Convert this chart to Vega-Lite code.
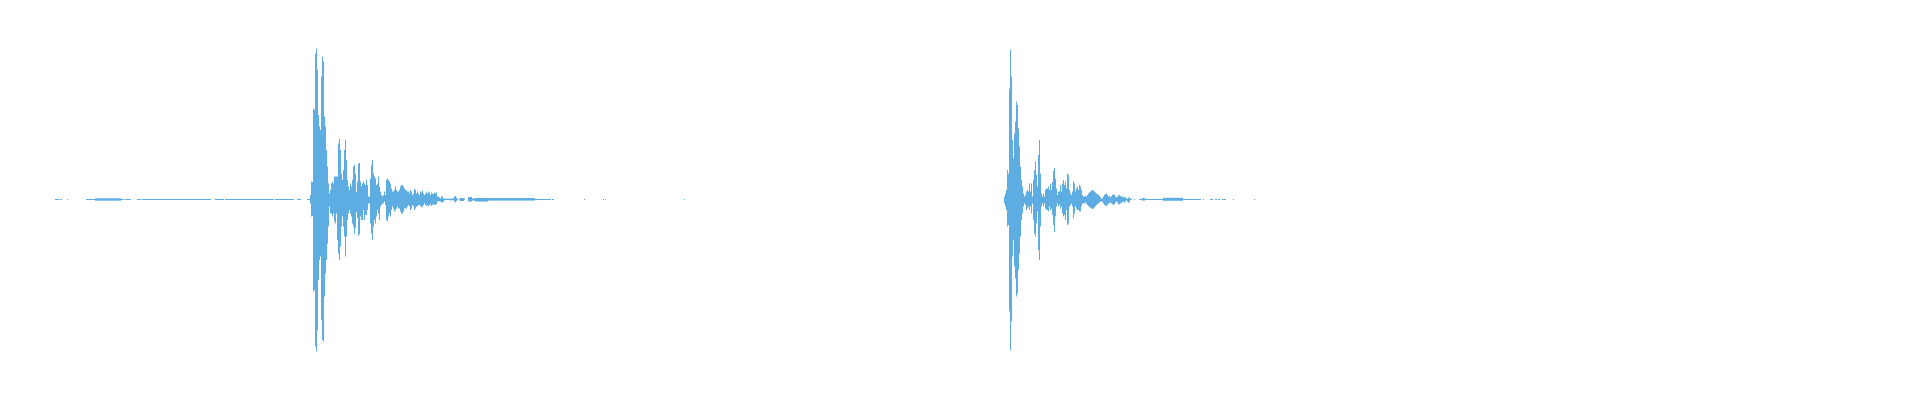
{
  "$schema": "https://vega.github.io/schema/vega-lite/v6.json",
  "autosize": {"type": "fit", "contains": "padding"},
  "width": 1920,
  "height": 400,
  "padding": 0,
  "background": "white",
  "config": {"view": {"stroke": null}},
  "data": {"values": [
    {"t":55,"t2":57,"lo":0,"hi":0.005},{"t":57,"t2":59,"lo":0,"hi":0.005},{"t":60,"t2":62,"lo":0,"hi":0.005},{"t":67,"t2":68,"lo":0,"hi":0.005},
    {"t":86,"t2":95,"lo":0,"hi":0.005},{"t":95,"t2":121,"lo":-0.0035,"hi":0.0085},{"t":121,"t2":124,"lo":0,"hi":0.005},{"t":125,"t2":131,"lo":0,"hi":0.005},
    {"t":137,"t2":141,"lo":0,"hi":0.005},{"t":142,"t2":181,"lo":0,"hi":0.005},{"t":181,"t2":211,"lo":0,"hi":0.005},{"t":215,"t2":224,"lo":0,"hi":0.005},
    {"t":225,"t2":243,"lo":0,"hi":0.005},{"t":243,"t2":274,"lo":0,"hi":0.005},{"t":275,"t2":294,"lo":0,"hi":0.005},{"t":297,"t2":301,"lo":0,"hi":0.005},
    {"t":307,"t2":310,"lo":0,"hi":0.005},
    {"t":310,"t2":311,"lo":-0.017,"hi":0.025},{"t":311,"t2":312,"lo":-0.083,"hi":0.092},{"t":312,"t2":313,"lo":-0.08,"hi":0.09},
    {"t":313,"t2":314,"lo":-0.458,"hi":0.458},{"t":314,"t2":315,"lo":-0.45,"hi":0.45},{"t":315,"t2":316,"lo":-0.733,"hi":0.733},
    {"t":316,"t2":317,"lo":-0.758,"hi":0.758},{"t":317,"t2":318,"lo":-0.65,"hi":0.65},{"t":318,"t2":319,"lo":-0.4,"hi":0.425},
    {"t":319,"t2":320,"lo":-0.3,"hi":0.367},{"t":320,"t2":321,"lo":-0.283,"hi":0.35},{"t":321,"t2":322,"lo":-0.6,"hi":0.617},
    {"t":322,"t2":323,"lo":-0.7,"hi":0.717},{"t":323,"t2":324,"lo":-0.708,"hi":0.692},{"t":324,"t2":325,"lo":-0.483,"hi":0.417},
    {"t":325,"t2":326,"lo":-0.367,"hi":0.367},{"t":326,"t2":327,"lo":-0.3,"hi":0.25},{"t":327,"t2":328,"lo":-0.217,"hi":0.167},
    {"t":328,"t2":329,"lo":-0.133,"hi":0.083},{"t":329,"t2":330,"lo":-0.033,"hi":0.033},{"t":330,"t2":331,"lo":-0.067,"hi":0.05},
    {"t":331,"t2":332,"lo":-0.067,"hi":0.083},{"t":332,"t2":333,"lo":-0.083,"hi":0.092},{"t":333,"t2":334,"lo":-0.067,"hi":0.083},
    {"t":334,"t2":335,"lo":-0.108,"hi":0.117},{"t":335,"t2":336,"lo":-0.117,"hi":0.117},{"t":336,"t2":337,"lo":-0.067,"hi":0.117},
    {"t":337,"t2":338,"lo":-0.2,"hi":0.117},{"t":338,"t2":339,"lo":-0.267,"hi":0.283},{"t":339,"t2":340,"lo":-0.3,"hi":0.308},
    {"t":340,"t2":341,"lo":-0.233,"hi":0.25},{"t":341,"t2":342,"lo":-0.133,"hi":0.133},{"t":342,"t2":343,"lo":-0.083,"hi":0.1},
    {"t":343,"t2":344,"lo":-0.133,"hi":0.15},{"t":344,"t2":345,"lo":-0.183,"hi":0.25},{"t":345,"t2":346,"lo":-0.283,"hi":0.3},
    {"t":346,"t2":347,"lo":-0.183,"hi":0.2},{"t":347,"t2":348,"lo":-0.1,"hi":0.1},{"t":348,"t2":349,"lo":-0.067,"hi":0.067},
    {"t":349,"t2":350,"lo":-0.05,"hi":0.05},{"t":350,"t2":351,"lo":-0.067,"hi":0.083},{"t":351,"t2":352,"lo":-0.083,"hi":0.067},
    {"t":352,"t2":353,"lo":-0.117,"hi":0.1},{"t":353,"t2":354,"lo":-0.133,"hi":0.167},{"t":354,"t2":355,"lo":-0.167,"hi":0.175},
    {"t":355,"t2":356,"lo":-0.14,"hi":0.13},{"t":356,"t2":357,"lo":-0.06,"hi":0.04},{"t":357,"t2":358,"lo":-0.09,"hi":0.092},
    {"t":358,"t2":359,"lo":-0.18,"hi":0.183},{"t":359,"t2":360,"lo":-0.17,"hi":0.185},
    {"t":360,"t2":361,"lo":-0.083,"hi":0.092},{"t":361,"t2":362,"lo":-0.1,"hi":0.067},{"t":362,"t2":363,"lo":-0.1,"hi":0.083},
    {"t":363,"t2":364,"lo":-0.05,"hi":0.092},{"t":364,"t2":365,"lo":-0.1,"hi":0.083},{"t":365,"t2":366,"lo":-0.075,"hi":0.075},
    {"t":366,"t2":367,"lo":-0.075,"hi":0.1},{"t":367,"t2":368,"lo":-0.05,"hi":0.075},{"t":368,"t2":369,"lo":-0.017,"hi":0.017},
    {"t":369,"t2":370,"lo":-0.017,"hi":0.017},{"t":370,"t2":371,"lo":-0.117,"hi":0.108},{"t":371,"t2":372,"lo":-0.167,"hi":0.175},
    {"t":372,"t2":373,"lo":-0.2,"hi":0.2},{"t":373,"t2":374,"lo":-0.133,"hi":0.133},{"t":374,"t2":375,"lo":-0.1,"hi":0.117},
    {"t":375,"t2":376,"lo":-0.117,"hi":0.108},{"t":376,"t2":377,"lo":-0.083,"hi":0.075},{"t":377,"t2":378,"lo":-0.05,"hi":0.083},
    {"t":378,"t2":379,"lo":-0.067,"hi":0.117},{"t":379,"t2":380,"lo":-0.1,"hi":0.067},{"t":380,"t2":381,"lo":-0.033,"hi":0.042},
    {"t":381,"t2":382,"lo":-0.025,"hi":0.025},{"t":382,"t2":383,"lo":-0.017,"hi":0.017},{"t":383,"t2":384,"lo":-0.017,"hi":0.025},
    {"t":384,"t2":385,"lo":-0.008,"hi":0.042},{"t":385,"t2":386,"lo":-0.025,"hi":0.025},{"t":386,"t2":387,"lo":-0.1,"hi":0.1},
    {"t":387,"t2":388,"lo":-0.108,"hi":0.108},{"t":388,"t2":389,"lo":-0.083,"hi":0.1},{"t":389,"t2":390,"lo":-0.067,"hi":0.092},
    {"t":390,"t2":391,"lo":-0.083,"hi":0.083},{"t":391,"t2":392,"lo":-0.05,"hi":0.058},{"t":392,"t2":393,"lo":-0.033,"hi":0.042},
    {"t":393,"t2":394,"lo":-0.042,"hi":0.042},{"t":394,"t2":395,"lo":-0.058,"hi":0.05},{"t":395,"t2":396,"lo":-0.05,"hi":0.067},
    {"t":396,"t2":397,"lo":-0.042,"hi":0.05},{"t":397,"t2":398,"lo":-0.033,"hi":0.042},{"t":398,"t2":399,"lo":-0.042,"hi":0.042},
    {"t":399,"t2":400,"lo":-0.042,"hi":0.05},{"t":400,"t2":401,"lo":-0.058,"hi":0.067},{"t":401,"t2":402,"lo":-0.067,"hi":0.075},
    {"t":402,"t2":403,"lo":-0.067,"hi":0.075},{"t":403,"t2":404,"lo":-0.058,"hi":0.067},{"t":404,"t2":405,"lo":-0.042,"hi":0.058},
    {"t":405,"t2":406,"lo":-0.042,"hi":0.05},{"t":406,"t2":407,"lo":-0.042,"hi":0.05},{"t":407,"t2":408,"lo":-0.033,"hi":0.042},
    {"t":408,"t2":409,"lo":-0.025,"hi":0.042},{"t":409,"t2":410,"lo":-0.033,"hi":0.033},{"t":410,"t2":411,"lo":-0.05,"hi":0.05},
    {"t":411,"t2":412,"lo":-0.042,"hi":0.042},{"t":412,"t2":413,"lo":-0.025,"hi":0.025},{"t":413,"t2":414,"lo":-0.033,"hi":0.033},
    {"t":414,"t2":415,"lo":-0.05,"hi":0.058},{"t":415,"t2":416,"lo":-0.042,"hi":0.05},{"t":416,"t2":417,"lo":-0.033,"hi":0.033},
    {"t":417,"t2":418,"lo":-0.033,"hi":0.042},{"t":418,"t2":419,"lo":-0.025,"hi":0.033},{"t":419,"t2":420,"lo":-0.025,"hi":0.025},
    {"t":420,"t2":421,"lo":-0.03,"hi":0.042},{"t":421,"t2":422,"lo":-0.037,"hi":0.037},{"t":422,"t2":423,"lo":-0.033,"hi":0.047},
    {"t":423,"t2":424,"lo":-0.025,"hi":0.033},{"t":424,"t2":425,"lo":-0.017,"hi":0.025},{"t":425,"t2":426,"lo":-0.025,"hi":0.033},
    {"t":426,"t2":427,"lo":-0.03,"hi":0.037},{"t":427,"t2":428,"lo":-0.025,"hi":0.033},{"t":428,"t2":429,"lo":-0.033,"hi":0.042},
    {"t":429,"t2":430,"lo":-0.025,"hi":0.037},{"t":430,"t2":431,"lo":-0.02,"hi":0.025},{"t":431,"t2":432,"lo":-0.03,"hi":0.037},
    {"t":432,"t2":433,"lo":-0.025,"hi":0.03},{"t":433,"t2":434,"lo":-0.02,"hi":0.033},{"t":434,"t2":435,"lo":-0.025,"hi":0.037},
    {"t":435,"t2":436,"lo":-0.025,"hi":0.033},{"t":436,"t2":437,"lo":-0.02,"hi":0.037},{"t":437,"t2":438,"lo":-0.008,"hi":0.017},
    {"t":438,"t2":439,"lo":-0.008,"hi":0.017},{"t":439,"t2":440,"lo":-0.005,"hi":0.012},{"t":440,"t2":441,"lo":-0.008,"hi":0.008},
    {"t":441,"t2":442,"lo":-0.013,"hi":0.017},{"t":442,"t2":443,"lo":-0.013,"hi":0.017},{"t":443,"t2":444,"lo":-0.008,"hi":0.008},
    {"t":444,"t2":445,"lo":-0.003,"hi":0.008},{"t":445,"t2":450,"lo":0,"hi":0.0065},{"t":450,"t2":452,"lo":-0.003,"hi":0.008},
    {"t":452,"t2":453,"lo":0,"hi":0.0065},{"t":453,"t2":454,"lo":-0.003,"hi":0.01},{"t":454,"t2":455,"lo":-0.008,"hi":0.017},
    {"t":455,"t2":456,"lo":-0.013,"hi":0.02},{"t":456,"t2":457,"lo":-0.005,"hi":0.012},{"t":457,"t2":458,"lo":0,"hi":0.0065},
    {"t":459,"t2":460,"lo":0,"hi":0.0065},{"t":460,"t2":464,"lo":-0.005,"hi":0.01},{"t":464,"t2":465,"lo":0,"hi":0.0065},
    {"t":468,"t2":472,"lo":-0.008,"hi":0.015},{"t":472,"t2":475,"lo":-0.003,"hi":0.008},{"t":475,"t2":488,"lo":-0.008,"hi":0.01},
    {"t":488,"t2":507,"lo":-0.003,"hi":0.01},{"t":507,"t2":535,"lo":-0.003,"hi":0.01},{"t":535,"t2":551,"lo":0,"hi":0.005},
    {"t":552,"t2":554,"lo":0,"hi":0.005},{"t":584,"t2":585,"lo":0,"hi":0.005},{"t":603,"t2":604,"lo":0,"hi":0.005},
    {"t":605,"t2":606,"lo":0,"hi":0.005},{"t":684,"t2":685,"lo":0,"hi":0.005},
    {"t":1004,"t2":1005,"lo":-0.017,"hi":0.017},{"t":1005,"t2":1006,"lo":-0.033,"hi":0.033},{"t":1006,"t2":1007,"lo":-0.05,"hi":0.05},
    {"t":1007,"t2":1008,"lo":-0.133,"hi":0.15},{"t":1008,"t2":1009,"lo":-0.125,"hi":0.133},{"t":1009,"t2":1010,"lo":-0.558,"hi":0.558},
    {"t":1010,"t2":1011,"lo":-0.75,"hi":0.75},{"t":1011,"t2":1012,"lo":-0.608,"hi":0.617},{"t":1012,"t2":1013,"lo":-0.283,"hi":0.3},
    {"t":1013,"t2":1014,"lo":-0.2,"hi":0.208},{"t":1014,"t2":1015,"lo":-0.333,"hi":0.333},{"t":1015,"t2":1016,"lo":-0.392,"hi":0.392},
    {"t":1016,"t2":1017,"lo":-0.483,"hi":0.492},{"t":1017,"t2":1018,"lo":-0.467,"hi":0.475},{"t":1018,"t2":1019,"lo":-0.35,"hi":0.358},
    {"t":1019,"t2":1020,"lo":-0.267,"hi":0.267},{"t":1020,"t2":1021,"lo":-0.183,"hi":0.167},{"t":1021,"t2":1022,"lo":-0.1,"hi":0.1},
    {"t":1022,"t2":1023,"lo":-0.067,"hi":0.067},{"t":1023,"t2":1024,"lo":-0.033,"hi":0.033},{"t":1024,"t2":1025,"lo":-0.017,"hi":0.017},
    {"t":1025,"t2":1026,"lo":-0.025,"hi":0.025},{"t":1026,"t2":1027,"lo":-0.05,"hi":0.042},{"t":1027,"t2":1028,"lo":-0.042,"hi":0.05},
    {"t":1028,"t2":1029,"lo":-0.033,"hi":0.042},{"t":1029,"t2":1030,"lo":-0.05,"hi":0.083},{"t":1030,"t2":1031,"lo":-0.033,"hi":0.042},
    {"t":1031,"t2":1032,"lo":-0.067,"hi":0.083},{"t":1032,"t2":1033,"lo":-0.017,"hi":0.017},{"t":1033,"t2":1034,"lo":-0.1,"hi":0.1},
    {"t":1034,"t2":1035,"lo":-0.167,"hi":0.15},{"t":1035,"t2":1036,"lo":-0.183,"hi":0.192},{"t":1036,"t2":1037,"lo":-0.117,"hi":0.125},
    {"t":1037,"t2":1038,"lo":-0.058,"hi":0.067},{"t":1038,"t2":1039,"lo":-0.25,"hi":0.225},{"t":1039,"t2":1040,"lo":-0.3,"hi":0.3},
    {"t":1040,"t2":1041,"lo":-0.133,"hi":0.133},{"t":1041,"t2":1042,"lo":-0.033,"hi":0.033},{"t":1042,"t2":1043,"lo":-0.017,"hi":0.017},
    {"t":1043,"t2":1044,"lo":-0.033,"hi":0.033},{"t":1044,"t2":1045,"lo":-0.017,"hi":0.017},{"t":1045,"t2":1046,"lo":-0.042,"hi":0.05},
    {"t":1046,"t2":1047,"lo":-0.05,"hi":0.058},{"t":1047,"t2":1048,"lo":-0.05,"hi":0.058},{"t":1048,"t2":1049,"lo":-0.058,"hi":0.067},
    {"t":1049,"t2":1050,"lo":-0.033,"hi":0.05},{"t":1050,"t2":1051,"lo":-0.05,"hi":0.08},{"t":1051,"t2":1052,"lo":-0.042,"hi":0.05},
    {"t":1052,"t2":1053,"lo":-0.075,"hi":0.09},{"t":1053,"t2":1054,"lo":-0.125,"hi":0.145},{"t":1054,"t2":1055,"lo":-0.16,"hi":0.16},
    {"t":1055,"t2":1056,"lo":-0.083,"hi":0.108},{"t":1056,"t2":1057,"lo":-0.033,"hi":0.058},{"t":1057,"t2":1058,"lo":-0.017,"hi":0.025},
    {"t":1058,"t2":1059,"lo":-0.033,"hi":0.042},{"t":1059,"t2":1060,"lo":-0.025,"hi":0.042},{"t":1060,"t2":1061,"lo":-0.042,"hi":0.075},
    {"t":1061,"t2":1062,"lo":-0.033,"hi":0.042},{"t":1062,"t2":1063,"lo":-0.067,"hi":0.083},{"t":1063,"t2":1064,"lo":-0.083,"hi":0.1},
    {"t":1064,"t2":1065,"lo":-0.075,"hi":0.075},{"t":1065,"t2":1066,"lo":-0.1,"hi":0.092},{"t":1066,"t2":1067,"lo":-0.05,"hi":0.058},
    {"t":1067,"t2":1068,"lo":-0.125,"hi":0.133},{"t":1068,"t2":1069,"lo":-0.117,"hi":0.125},{"t":1069,"t2":1070,"lo":-0.033,"hi":0.05},
    {"t":1070,"t2":1071,"lo":-0.025,"hi":0.033},{"t":1071,"t2":1072,"lo":-0.017,"hi":0.025},{"t":1072,"t2":1073,"lo":-0.033,"hi":0.042},
    {"t":1073,"t2":1074,"lo":-0.092,"hi":0.092},{"t":1074,"t2":1075,"lo":-0.067,"hi":0.083},{"t":1075,"t2":1076,"lo":-0.033,"hi":0.042},
    {"t":1076,"t2":1077,"lo":-0.042,"hi":0.058},{"t":1077,"t2":1078,"lo":-0.05,"hi":0.067},{"t":1078,"t2":1079,"lo":-0.05,"hi":0.05},
    {"t":1079,"t2":1080,"lo":-0.058,"hi":0.075},{"t":1080,"t2":1081,"lo":-0.058,"hi":0.067},{"t":1081,"t2":1082,"lo":-0.033,"hi":0.05},
    {"t":1082,"t2":1083,"lo":-0.017,"hi":0.025},{"t":1083,"t2":1084,"lo":-0.017,"hi":0.017},{"t":1084,"t2":1085,"lo":-0.017,"hi":0.017},
    {"t":1085,"t2":1086,"lo":-0.013,"hi":0.02},{"t":1086,"t2":1087,"lo":-0.017,"hi":0.017},{"t":1087,"t2":1088,"lo":-0.025,"hi":0.025},
    {"t":1088,"t2":1089,"lo":-0.03,"hi":0.033},{"t":1089,"t2":1090,"lo":-0.037,"hi":0.037},{"t":1090,"t2":1091,"lo":-0.037,"hi":0.042},
    {"t":1091,"t2":1092,"lo":-0.042,"hi":0.047},{"t":1092,"t2":1093,"lo":-0.045,"hi":0.05},{"t":1093,"t2":1094,"lo":-0.042,"hi":0.047},
    {"t":1094,"t2":1095,"lo":-0.037,"hi":0.042},{"t":1095,"t2":1096,"lo":-0.03,"hi":0.037},{"t":1096,"t2":1097,"lo":-0.025,"hi":0.033},
    {"t":1097,"t2":1098,"lo":-0.02,"hi":0.03},{"t":1098,"t2":1099,"lo":-0.017,"hi":0.025},{"t":1099,"t2":1100,"lo":-0.013,"hi":0.02},
    {"t":1100,"t2":1101,"lo":-0.008,"hi":0.013},{"t":1101,"t2":1102,"lo":-0.008,"hi":0.008},{"t":1102,"t2":1103,"lo":-0.008,"hi":0.008},
    {"t":1103,"t2":1104,"lo":-0.017,"hi":0.017},{"t":1104,"t2":1105,"lo":-0.025,"hi":0.025},{"t":1105,"t2":1106,"lo":-0.028,"hi":0.03},
    {"t":1106,"t2":1107,"lo":-0.03,"hi":0.033},{"t":1107,"t2":1108,"lo":-0.025,"hi":0.025},{"t":1108,"t2":1109,"lo":-0.017,"hi":0.017},
    {"t":1109,"t2":1110,"lo":-0.017,"hi":0.02},{"t":1110,"t2":1111,"lo":-0.013,"hi":0.013},{"t":1111,"t2":1112,"lo":-0.017,"hi":0.02},
    {"t":1112,"t2":1113,"lo":-0.02,"hi":0.025},{"t":1113,"t2":1114,"lo":-0.025,"hi":0.03},{"t":1114,"t2":1115,"lo":-0.02,"hi":0.025},
    {"t":1115,"t2":1116,"lo":-0.013,"hi":0.017},{"t":1116,"t2":1117,"lo":-0.008,"hi":0.013},{"t":1117,"t2":1118,"lo":-0.013,"hi":0.017},
    {"t":1118,"t2":1119,"lo":-0.02,"hi":0.023},{"t":1119,"t2":1120,"lo":-0.022,"hi":0.025},{"t":1120,"t2":1121,"lo":-0.017,"hi":0.02},
    {"t":1121,"t2":1122,"lo":-0.013,"hi":0.017},{"t":1122,"t2":1123,"lo":-0.013,"hi":0.017},{"t":1123,"t2":1124,"lo":-0.008,"hi":0.013},
    {"t":1124,"t2":1125,"lo":-0.013,"hi":0.017},{"t":1125,"t2":1126,"lo":-0.008,"hi":0.013},{"t":1126,"t2":1127,"lo":-0.003,"hi":0.008},
    {"t":1127,"t2":1128,"lo":-0.008,"hi":0.008},{"t":1128,"t2":1129,"lo":-0.013,"hi":0.013},{"t":1129,"t2":1130,"lo":-0.013,"hi":0.013},
    {"t":1130,"t2":1132,"lo":0,"hi":0.0065},{"t":1134,"t2":1135,"lo":0,"hi":0.005},{"t":1139,"t2":1142,"lo":0,"hi":0.005},
    {"t":1142,"t2":1145,"lo":-0.003,"hi":0.01},{"t":1145,"t2":1163,"lo":0,"hi":0.005},{"t":1163,"t2":1183,"lo":-0.004,"hi":0.011},
    {"t":1183,"t2":1201,"lo":0,"hi":0.005},{"t":1203,"t2":1204,"lo":0,"hi":0.005},{"t":1210,"t2":1213,"lo":0,"hi":0.005},
    {"t":1215,"t2":1217,"lo":0,"hi":0.005},{"t":1218,"t2":1220,"lo":0,"hi":0.005},{"t":1222,"t2":1226,"lo":0,"hi":0.005},
    {"t":1233,"t2":1234,"lo":0,"hi":0.005},{"t":1254,"t2":1255,"lo":0,"hi":0.005}
  ]},
  "mark": {"type": "rect", "color": "#5dade2", "strokeWidth": 0},
  "encoding": {
    "x": {"field": "t", "type": "quantitative", "scale": {"domain": [0, 1920], "nice": false, "zero": false}, "axis": null},
    "x2": {"field": "t2"},
    "y": {"field": "lo", "type": "quantitative", "scale": {"domain": [-1, 1], "nice": false, "zero": false}, "axis": null},
    "y2": {"field": "hi"}
  }
}
